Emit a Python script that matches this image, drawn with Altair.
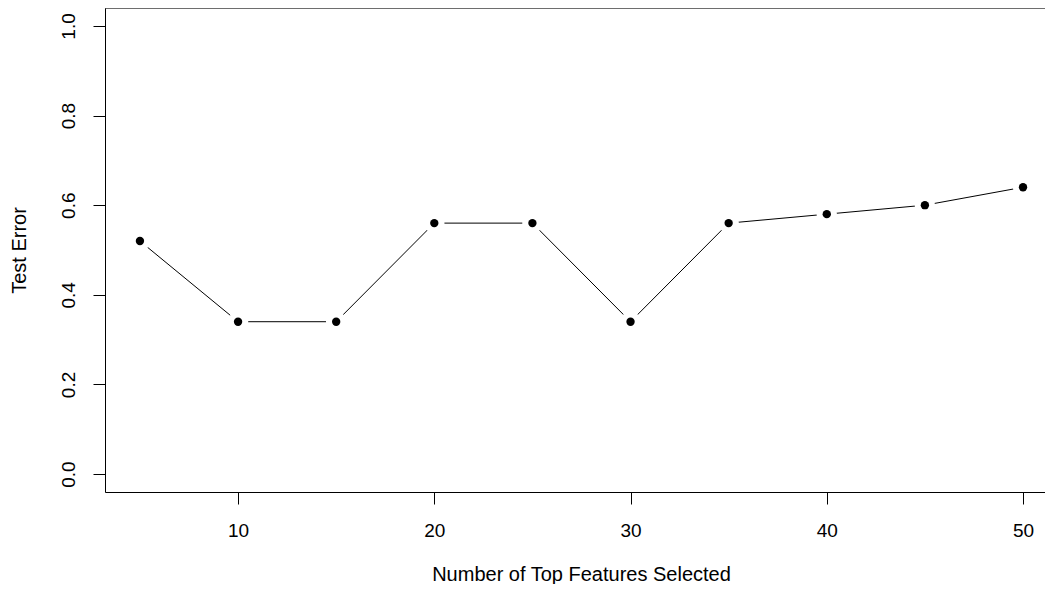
import altair as alt
import pandas as pd

features = [5, 10, 15, 20, 25, 30, 35, 40, 45, 50]
test_error = [0.52, 0.34, 0.34, 0.56, 0.56, 0.34, 0.56, 0.58, 0.60, 0.64]
x_ticks = [10, 20, 30, 40, 50]
y_ticks = [0.0, 0.2, 0.4, 0.6, 0.8, 1.0]

df = pd.DataFrame({"features": features, "error": test_error})

W, H = 940, 484
FONT = "Liberation Sans"

x = alt.X("features:Q",
          scale=alt.Scale(domain=[3.22, 51.12], nice=False, zero=False),
          axis=alt.Axis(values=x_ticks, title="Number of Top Features Selected",
                        grid=False, domainColor="black", tickColor="black",
                        tickSize=12, labelPadding=26, labelBaseline="middle",
                        labelFontSize=19, labelColor="black", labelFont=FONT,
                        titleFontSize=20, titleFontWeight="normal", titleColor="black",
                        titleFont=FONT, titleY=82, titleX=476,
                        titleBaseline="middle", titleAlign="center"))
y = alt.Y("error:Q",
          scale=alt.Scale(domain=[-0.04, 1.04], nice=False, zero=False),
          axis=alt.Axis(values=y_ticks, format=".1f", title="Test Error",
                        grid=False, domainColor="black", tickColor="black",
                        tickSize=12, labelPadding=25, labelAngle=270,
                        labelAlign="center", labelBaseline="middle",
                        labelFontSize=19, labelColor="black", labelFont=FONT,
                        titleFontSize=20, titleFontWeight="normal", titleColor="black",
                        titleFont=FONT, titleAngle=270, titleX=-86, titleY=H / 2,
                        titleBaseline="middle", titleAlign="center"))

base = alt.Chart(df)
line = base.mark_line(color="black", strokeWidth=1).encode(x=x, y=y)
halo = base.mark_circle(color="white", opacity=1, size=420).encode(x=x, y=y)
pts = base.mark_circle(color="black", opacity=1, size=70).encode(x=x, y=y)
top = alt.Chart(pd.DataFrame({"a": [0]})).mark_rule(color="black", strokeWidth=1).encode(
    x=alt.value(0), x2=alt.value(W), y=alt.value(0))

chart = alt.layer(line, halo, pts, top).properties(
    width=W, height=H,
    autosize=alt.AutoSizeParams(type="none"),
    padding={"left": 97, "top": 0, "right": 0, "bottom": 92},
).configure_view(stroke=None).configure(background="white")

chart.save("out.html", embed_options={"renderer": "svg", "actions": False})
